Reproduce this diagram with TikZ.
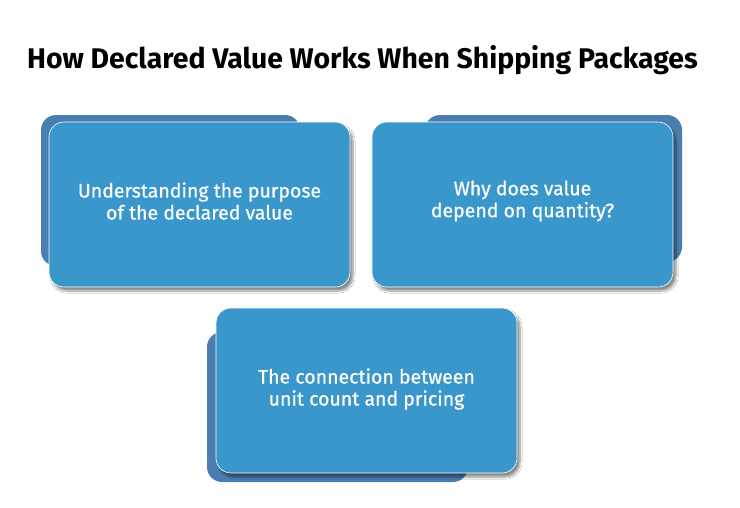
\documentclass[tikz,border=0pt]{standalone}
\usepackage{fontspec}
\setmainfont{Fira Sans}
\newfontfamily\cardfont[FakeBold=0.6]{Fira Sans}
\usetikzlibrary{shadows,shadows.blur}
\definecolor{cardfront}{HTML}{3A97CC}
\definecolor{cardback}{HTML}{4A7EB0}
\tikzset{
  backcard/.style={fill=cardback, rounded corners=15pt},
  frontcard/.style={fill=cardfront, rounded corners=15pt, draw=white, line width=0.6pt,
    blur shadow={shadow xshift=3pt, shadow yshift=-4pt, shadow blur steps=8, shadow opacity=45}},
  cardtext/.style={text=white, font=\cardfont\fontsize{19.5}{22}\selectfont, align=center},
}
\begin{document}
\begin{tikzpicture}[x=1pt,y=-1pt]
\useasboundingbox (0,0) rectangle (740,507);
\fill[white] (0,0) rectangle (740,507);
\node[anchor=west, font=\fontsize{28.4}{32}\selectfont\bfseries, inner sep=0] (title) at (27,60) {How Declared Value Works When Shipping Packages};
% card 1
\fill[backcard] (41,115) rectangle (300,266);
\path[frontcard] (49,122) rectangle (350,287);
\node[cardtext] (c1) at (199.5,201) {Understanding the purpose\\of the declared value};
% card 2
\fill[backcard] (425,115) rectangle (682,262);
\path[frontcard] (372,122) rectangle (673,287);
\node[cardtext] (c2) at (522.5,201) {Why does value\\depend on quantity?};
% card 3
\fill[backcard] (207,332) rectangle (468,482);
\path[frontcard] (216,308) rectangle (517,473);
\node[cardtext] (c3) at (366.5,389) {The connection between\\unit count and pricing};
\end{tikzpicture}
\end{document}
